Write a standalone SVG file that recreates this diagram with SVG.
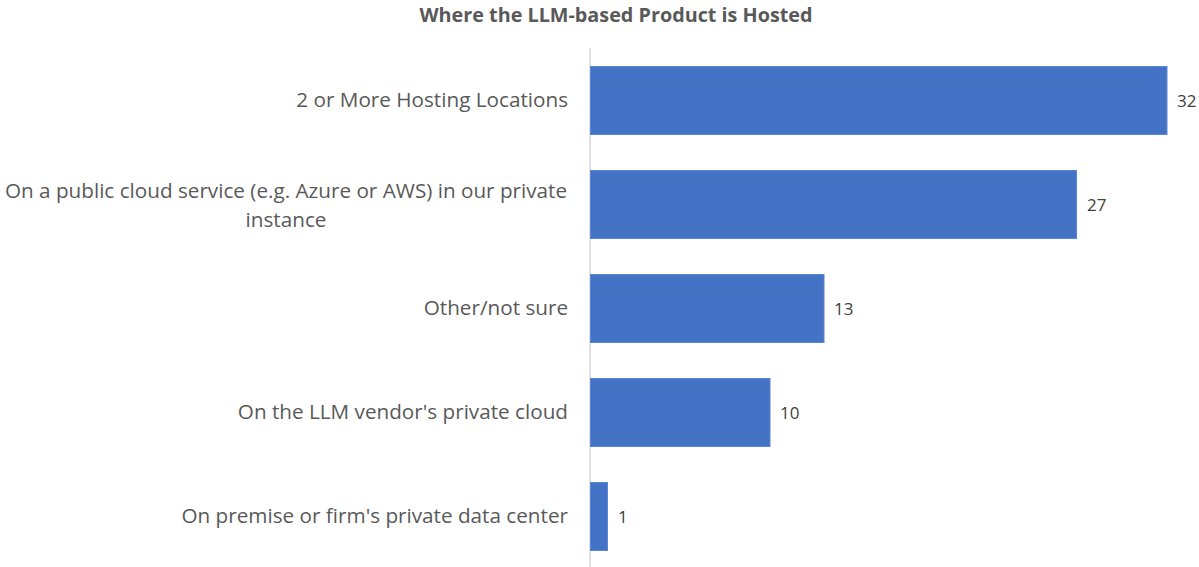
<svg xmlns="http://www.w3.org/2000/svg" width="1199" height="567" viewBox="0 0 1199 567">
  <style>
    .title { font-family: "Open Sans", "Liberation Sans", sans-serif; font-size: 19.8px; font-weight: bold; fill: #595959; text-anchor: middle; }
    .cat { font-family: "Open Sans", "Liberation Sans", sans-serif; font-size: 20.7px; fill: #595959; text-anchor: end; }
    .cat-mid { text-anchor: middle; }
    .val { font-family: "Open Sans", "Liberation Sans", sans-serif; font-size: 17px; fill: #404040; }
    .bar { fill: #4472C4; stroke: #5A86D6; stroke-width: 1; }
    .axis { stroke: #D9D9D9; stroke-width: 1.5; }
  </style>
  <rect width="1199" height="567" fill="#FFFFFF"/>

  <text class="title" x="616" y="22">Where the LLM-based Product is Hosted</text>

  <!-- category axis -->
  <g id="axis">
    <line class="axis" x1="590" y1="48" x2="590" y2="567"/>
  </g>

  <g id="row-multiple">
    <rect class="bar" x="590.5" y="66.5" width="576.5" height="68"/>
    <text class="cat" x="568" y="107">2 or More Hosting Locations</text>
    <text class="val" x="1177" y="107">32</text>
  </g>

  <g id="row-public-cloud">
    <rect class="bar" x="590.5" y="170.5" width="486" height="68"/>
    <text class="cat cat-mid" x="286" y="198">On a public cloud service (e.g. Azure or AWS) in our private</text>
    <text class="cat cat-mid" x="286" y="227">instance</text>
    <text class="val" x="1087" y="211">27</text>
  </g>

  <g id="row-other">
    <rect class="bar" x="590.5" y="274.5" width="233.5" height="68"/>
    <text class="cat" x="568" y="315">Other/not sure</text>
    <text class="val" x="834" y="315">13</text>
  </g>

  <g id="row-vendor-cloud">
    <rect class="bar" x="590.5" y="378.5" width="179.5" height="68"/>
    <text class="cat" x="568" y="419">On the LLM vendor's private cloud</text>
    <text class="val" x="780" y="419">10</text>
  </g>

  <g id="row-on-premise">
    <rect class="bar" x="590.5" y="482.5" width="17" height="68"/>
    <text class="cat" x="568" y="523">On premise or firm's private data center</text>
    <text class="val" x="618" y="523">1</text>
  </g>
</svg>
